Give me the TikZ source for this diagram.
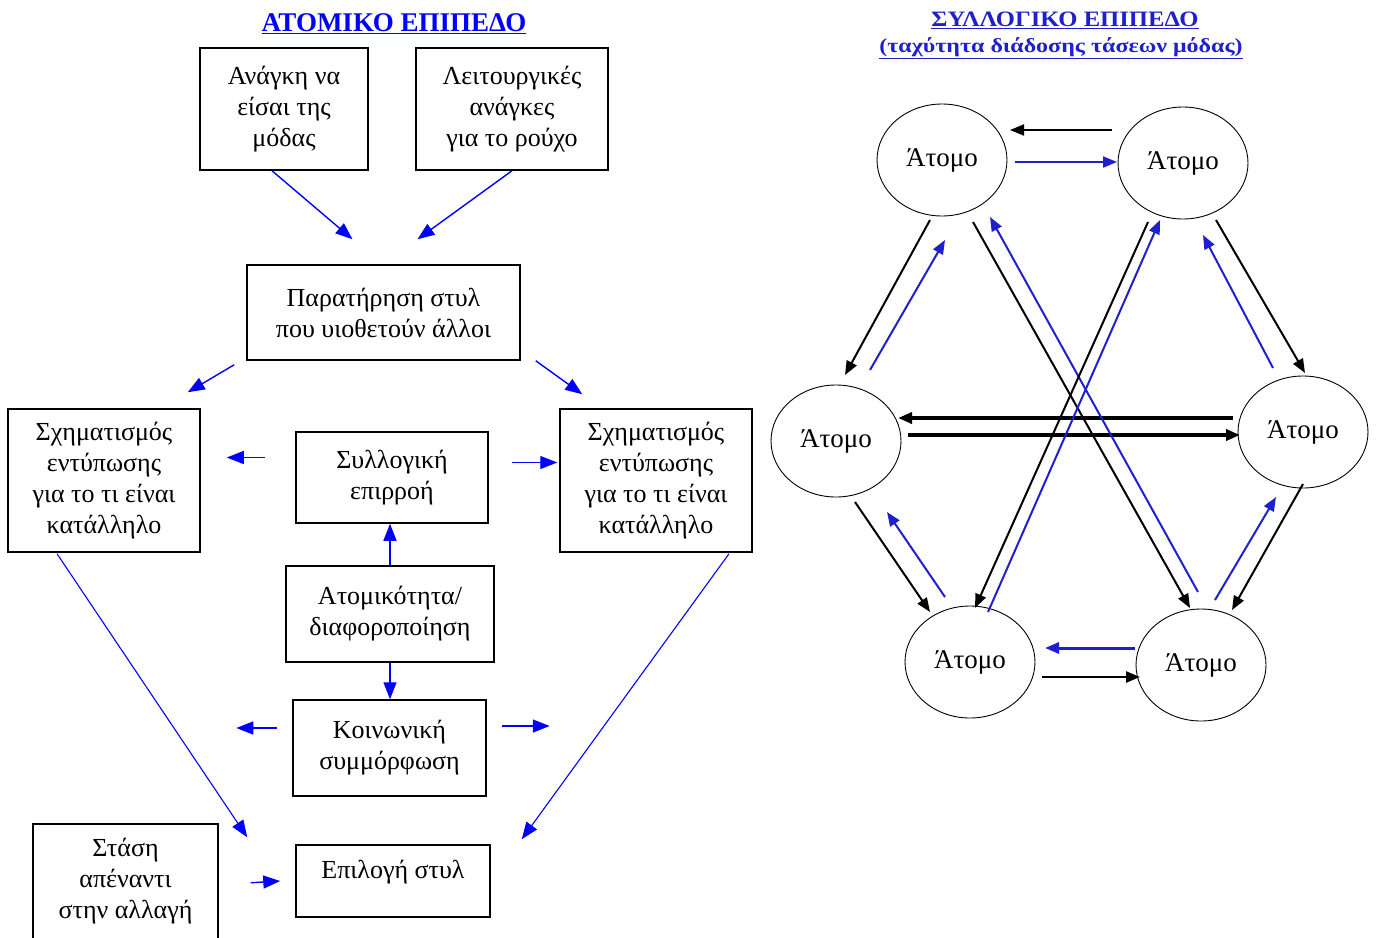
\documentclass[tikz,border=0pt]{standalone}
\usepackage{fontspec}
\setmainfont{Liberation Serif}
\usetikzlibrary{positioning,arrows.meta,shapes.geometric,calc}
\definecolor{linkblue}{HTML}{0000FF}
\definecolor{netblue}{HTML}{1F1FCC}

\begin{document}
\begin{tikzpicture}[x=1pt,y=-1pt,
  every node/.style={font=\fontsize{26}{31}\selectfont},
  box/.style={draw,line width=1.5pt,align=center,inner sep=0pt},
  atom/.style={ellipse,draw,line width=0.9pt,minimum width=130pt,minimum height=112pt,inner sep=0pt,font=\fontsize{27}{30}\selectfont},
  ttl/.style={font=\fontsize{27}{30}\bfseries\selectfont,text=linkblue},
  arr/.style={-{Triangle[length=17pt,width=13pt]},line width=1.4pt,linkblue},
  blk/.style={-{Triangle[length=14pt,width=11pt]},line width=2pt,black},
  blu/.style={-{Triangle[length=14pt,width=11pt]},line width=2pt,netblue}]
  \clip (0,0) rectangle (1378,937);
  % individual level
  \node[ttl] (tleft) at (394,24) {\underline{ΑΤΟΜΙΚΟ ΕΠΙΠΕΔΟ}};
  \node[box,minimum width=168pt,minimum height=122pt] (need) at (284,109) {Ανάγκη να\\είσαι της\\μόδας};
  \node[box,minimum width=192pt,minimum height=122pt] (func) at (512,109) {Λειτουργικές\\ανάγκες\\για το ρούχο};
  \node[box,minimum width=273pt,minimum height=95pt] (obs) at (383.5,312.5) {Παρατήρηση στυλ\\που υιοθετούν άλλοι};
  \node[box,minimum width=192pt,minimum height=143pt] (imprL) at (104,480.5) {Σχηματισμός\\εντύπωσης\\για το τι είναι\\κατάλληλο};
  \node[box,minimum width=192pt,minimum height=143pt] (imprR) at (656,480.5) {Σχηματισμός\\εντύπωσης\\για το τι είναι\\κατάλληλο};
  \node[box,minimum width=192pt,minimum height=91pt] (coll) at (392,477.5) {Συλλογική\\επιρροή};
  \node[box,minimum width=208pt,minimum height=96pt] (indiv) at (390,614) {Ατομικότητα/\\διαφοροποίηση};
  \node[box,minimum width=193pt,minimum height=96pt] (conf) at (389.5,748) {Κοινωνική\\συμμόρφωση};
  \node[box,minimum width=194pt,minimum height=72pt,text depth=23pt] (choice) at (393,881) {Επιλογή στυλ};
  \node[box,anchor=north,minimum width=185pt,minimum height=140pt,text depth=31pt] (att) at (125.5,823) {Στάση\\απέναντι\\στην αλλαγή};

  \draw[arr] ($(need.south)+(-12,0)$) -- ($(obs.north)+(-31,-25)$);
  \draw[arr] (func.south) -- ($(obs.north)+(34,-25)$);
  \draw[arr] ($(obs.south west)+(-12,4)$) -- ($(imprL.north east)+(-13,-16)$);
  \draw[arr] ($(obs.south east)+(15,0)$) -- ($(imprR.north west)+(23,-14)$);
  \draw[arr] ($(coll.west)+(-30,-20)$) -- ($(imprL.east)+(26,-23)$);
  \draw[arr] ($(coll.east)+(23,-15)$) -- ($(imprR.west)+(-2,-18)$);
  \draw[arr] (indiv.north) -- (indiv.north |- coll.south);
  \draw[arr] (indiv.south) -- (indiv.south |- conf.north);
  \draw[arr] ($(conf.west)+(-15,-20)$) -- ++(-41,0);
  \draw[arr] ($(conf.east)+(15,-22)$) -- ++(48,0);
  \draw[arr] ($(att.east)+(32,-11)$) -- ($(choice.west)+(-15,0)$);
  \draw[arr,line width=1.1pt] ($(imprL.south)+(-47,1)$) -- ($(choice.north west)+(-48,-7)$);
  \draw[arr,line width=1.1pt] ($(imprR.south)+(73,1)$) -- ($(choice.north east)+(31,-5)$);

  % collective level
  \node[ttl,font=\fontsize{22}{26}\bfseries\selectfont,text=netblue] (trt1) at (1065,20) {\scalebox{1.12}[1]{\underline{ΣΥΛΛΟΓΙΚΟ ΕΠΙΠΕΔΟ}}};
  \node[ttl,font=\fontsize{20}{24}\bfseries\selectfont,text=netblue] (trt2) at (1061,48) {\scalebox{1.2}[1]{\underline{(ταχύτητα διάδοσης τάσεων μόδας)}}};
  \node[atom] (A1) at (942,160) {Άτομο};
  \node[atom] (A2) at (1183,163) {Άτομο};
  \node[atom] (A3) at (836,441) {Άτομο};
  \node[atom] (A4) at (1303,432) {Άτομο};
  \node[atom] (A5) at (970,662) {Άτομο};
  \node[atom] (A6) at (1201,665) {Άτομο};

  \draw[blk] ($(A2)+(-71,-33)$) -- ($(A1)+(68,-30)$);
  \draw[blu] ($(A1)+(73,2)$) -- ($(A2)+(-66,-1)$);
  \draw[blk,line width=3.5pt] ($(A4)+(-70,-14)$) -- ($(A3)+(62,-23)$);
  \draw[blk,line width=3.5pt] ($(A3)+(72,-6)$) -- ($(A4)+(-63,3)$);
  \draw[blu,line width=3pt] ($(A6)+(-66,-17)$) -- ($(A5)+(75,-14)$);
  \draw[blk,line width=2.5pt] ($(A5)+(72,15)$) -- ($(A6)+(-61,12)$);
  \draw[blk] ($(A1)+(-12,60)$) -- ($(A3)+(9,-66)$);
  \draw[blu] ($(A3)+(34,-71)$) -- ($(A1)+(3,80)$);
  \draw[blk] ($(A3)+(19,61)$) -- ($(A5)+(-40,-50)$);
  \draw[blu] ($(A5)+(-25,-65)$) -- ($(A3)+(51,71)$);
  \draw[blk] ($(A2)+(33,57)$) -- ($(A4)+(2,-59)$);
  \draw[blu] ($(A4)+(-30,-64)$) -- ($(A2)+(20,72)$);
  \draw[blk] ($(A4)+(0,52)$) -- ($(A6)+(31,-55)$);
  \draw[blu] ($(A6)+(14,-65)$) -- ($(A4)+(-27,65)$);
  \draw[blk] ($(A1)+(31,62)$) -- ($(A6)+(-11,-57)$);
  \draw[blu] ($(A6)+(-3,-73)$) -- ($(A1)+(48,57)$);
  \draw[blk] ($(A2)+(-35,59)$) -- ($(A5)+(5,-54)$);
  \draw[blu] ($(A5)+(18,-50)$) -- ($(A2)+(-23,57)$);
\end{tikzpicture}
\end{document}
